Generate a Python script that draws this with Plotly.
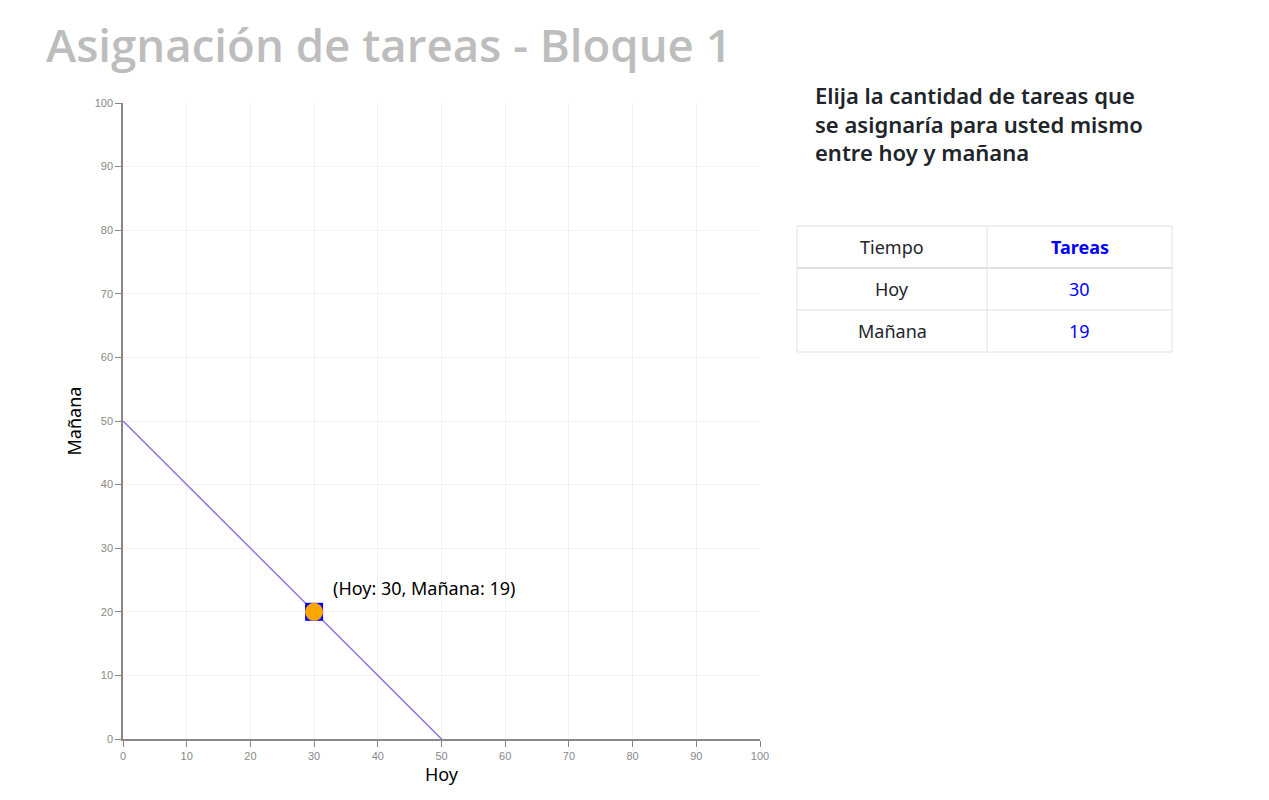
import plotly.graph_objects as go

# ---- data ----
title_text = "Asignación de tareas - Bloque 1"
question_lines = ["Elija la cantidad de tareas que", "se asignaría para usted mismo", "entre hoy y mañana"]
line_x = [0, 50]
line_y = [50, 0]
point_x = [30]
point_y = [20]
hoy_value = 30
manana_value = 19
table_header = ["Tiempo", "Tareas"]
table_tiempo = ["Hoy", "Mañana"]
table_tareas = [hoy_value, manana_value]
tick_vals = list(range(0, 101, 10))

W, H = 1269, 800
L, R, T, B = 123, 760, 103, 739
FONT = "Noto Sans, Open Sans, sans-serif"

fig = go.Figure()

fig.add_trace(go.Scatter(x=line_x, y=line_y, mode="lines",
                         line=dict(color="#9370DB", width=1.5),
                         hoverinfo="skip", showlegend=False))
fig.add_trace(go.Scatter(x=point_x, y=point_y, mode="markers",
                         marker=dict(symbol="square", size=18, color="#0000FF",
                                     line=dict(width=0)),
                         hoverinfo="skip", showlegend=False))
fig.add_trace(go.Scatter(x=point_x, y=point_y, mode="markers",
                         marker=dict(symbol="circle", size=18, color="#FFA500",
                                     line=dict(width=0)),
                         hoverinfo="skip", showlegend=False))

fig.add_annotation(x=point_x[0], y=point_y[0], xref="x", yref="y",
                   text=f"(Hoy: {hoy_value}, Mañana: {manana_value})",
                   showarrow=False, xanchor="left", yanchor="middle",
                   xshift=17, yshift=24,
                   font=dict(family=FONT, size=18, color="#000"))

# title
fig.add_annotation(x=44 / W, y=1 - 44 / H, xref="paper", yref="paper",
                   text=title_text, showarrow=False,
                   xanchor="left", yanchor="middle",
                   font=dict(family="Open Sans, Noto Sans, sans-serif", size=45.6,
                             color="#BDBDBD", weight=600))

# question text
fig.add_annotation(x=813 / W, y=1 - 123 / H, xref="paper", yref="paper",
                   text="<br>".join(question_lines),
                   showarrow=False, xanchor="left", yanchor="middle", align="left",
                   font=dict(family=FONT, size=22, color="#212529", weight=600))

# table drawn with shapes + annotations
tx0, tx1, tdiv = 797, 1172, 987
row_h = 42
ty0 = 226
rows = [(table_header[0], table_header[1], True)] + [
    (t, str(v), False) for t, v in zip(table_tiempo, table_tareas)]
n = len(rows)
grid = "#DEE2E6"
px = lambda v: v / W
py = lambda v: 1 - v / H
fig.add_shape(type="rect", xref="paper", yref="paper",
              x0=px(tx0), x1=px(tx1), y0=py(ty0), y1=py(ty0 + n * row_h),
              line=dict(color=grid, width=1), fillcolor="rgba(0,0,0,0)")
fig.add_shape(type="line", xref="paper", yref="paper",
              x0=px(tdiv), x1=px(tdiv), y0=py(ty0), y1=py(ty0 + n * row_h),
              line=dict(color=grid, width=1))
for i in range(1, n):
    fig.add_shape(type="line", xref="paper", yref="paper",
                  x0=px(tx0), x1=px(tx1), y0=py(ty0 + i * row_h), y1=py(ty0 + i * row_h),
                  line=dict(color=grid, width=2 if i == 1 else 1))
for i, (c1, c2, hdr) in enumerate(rows):
    yc = py(ty0 + i * row_h + row_h / 2)
    fig.add_annotation(x=px((tx0 + tdiv) / 2), y=yc, xref="paper", yref="paper",
                       text=c1, showarrow=False, xanchor="center", yanchor="middle",
                       font=dict(family=FONT, size=18, color="#212529"))
    fig.add_annotation(x=px((tdiv + tx1) / 2), y=yc, xref="paper", yref="paper",
                       text=c2, showarrow=False, xanchor="center", yanchor="middle",
                       font=dict(family=FONT, size=18, color="#0000FF",
                                 weight=700 if hdr else 400))

axis_common = dict(range=[0, 100], tickvals=tick_vals, showgrid=True,
                   gridcolor="#F2F2F2", gridwidth=1, zeroline=False,
                   showline=True, linecolor="#888888", linewidth=1.5,
                   ticks="outside", ticklen=6, tickcolor="#888888",
                   tickfont=dict(family="Arial, Liberation Sans, sans-serif", size=11, color="#888888"),
                   automargin=False, fixedrange=True)

fig.update_layout(
    width=W, height=H,
    margin=dict(l=0, r=0, t=0, b=0),
    paper_bgcolor="white", plot_bgcolor="white",
    showlegend=False,
    xaxis=dict(domain=[L / W, R / W], title=dict(text="Hoy", standoff=7,
               font=dict(family=FONT, size=18, color="#000")),
               **axis_common),
    yaxis=dict(domain=[1 - B / H, 1 - T / H], title=dict(text="Mañana", standoff=8,
               font=dict(family=FONT, size=18, color="#000")),
               **axis_common),
)

fig.write_html("out.html")
